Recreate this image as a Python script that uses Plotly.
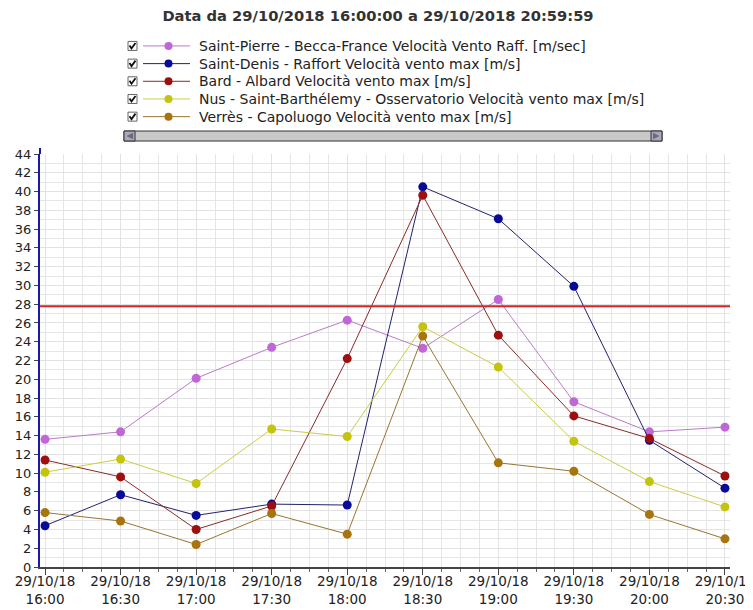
import plotly.graph_objects as go

times = ["2018-10-29 16:00", "2018-10-29 16:30", "2018-10-29 17:00", "2018-10-29 17:30",
         "2018-10-29 18:00", "2018-10-29 18:30", "2018-10-29 19:00", "2018-10-29 19:30",
         "2018-10-29 20:00", "2018-10-29 20:30"]
tick_labels = ["29/10/18<br>16:00", "29/10/18<br>16:30", "29/10/18<br>17:00", "29/10/18<br>17:30",
               "29/10/18<br>18:00", "29/10/18<br>18:30", "29/10/18<br>19:00", "29/10/18<br>19:30",
               "29/10/18<br>20:00", "29/10/18<br>20:30"]

saint_pierre = [13.6, 14.4, 20.1, 23.4, 26.3, 23.3, 28.5, 17.6, 14.4, 14.9]
saint_denis = [4.4, 7.7, 5.5, 6.7, 6.6, 40.5, 37.1, 29.9, 13.5, 8.4]
bard = [11.4, 9.6, 4.0, 6.5, 22.2, 39.6, 24.7, 16.1, 13.7, 9.7]
nus = [10.1, 11.5, 8.9, 14.7, 13.9, 25.6, 21.3, 13.4, 9.1, 6.4]
verres = [5.8, 4.9, 2.4, 5.7, 3.5, 24.6, 11.1, 10.2, 5.6, 3.0]

series_names = [
    "Saint-Pierre - Becca-France Velocità Vento Raff. [m/sec]",
    "Saint-Denis - Raffort Velocità vento max [m/s]",
    "Bard - Albard Velocità vento max [m/s]",
    "Nus - Saint-Barthélemy - Osservatorio Velocità vento max [m/s]",
    "Verrès - Capoluogo Velocità vento max [m/s]",
]
series_values = [saint_pierre, saint_denis, bard, nus, verres]
marker_colors = ["#c066d6", "#0a0a99", "#9e0f0f", "#c4c40e", "#a8740e"]
line_colors = ["#b87cc8", "#22226e", "#8a2a2a", "#cccc44", "#9a7430"]

threshold = 27.78
title_text = "Data da 29/10/2018 16:00:00 a 29/10/2018 20:59:59"

FONT = "DejaVu Sans"

fig = go.Figure()
for name, vals, mc, lc in zip(series_names, series_values, marker_colors, line_colors):
    fig.add_trace(go.Scatter(
        x=times, y=vals, name=name, mode="lines+markers",
        line=dict(color=lc, width=1),
        marker=dict(color=mc, size=9, line=dict(width=0)),
        showlegend=False,
    ))

# The page body has an 8px margin, so the figure is 8px smaller and all
# page coordinates below are expressed in window pixels.
OFF = 8
FIG_W, FIG_H = 753 - OFF, 610 - OFF

# plot-area geometry (window px) for decorations in paper coordinates
L, R, T, B = 40, 730, 154, 567.5
W, H = R - L, B - T


def px(x):
    return (x - L) / W


def py(y):
    return (B - y) / H


shapes = [
    dict(type="line", xref="paper", yref="y", x0=0, x1=1, y0=threshold, y1=threshold,
         line=dict(color="#d42424", width=2), layer="above"),
    # y axis line extends slightly above the top gridline
    dict(type="line", xref="paper", yref="paper", x0=0, x1=0, y0=1, y1=py(148),
         line=dict(color="#1a1aa8", width=2)),
]
annotations = []

# legend rows: checkbox, line sample with marker, label
rows = [45.8, 63.5, 81.2, 98.9, 116.6]
for r, name, mc, lc in zip(rows, series_names, marker_colors, line_colors):
    shapes.append(dict(type="rect", xref="paper", yref="paper",
                       x0=px(128), x1=px(137), y0=py(r + 4.5), y1=py(r - 4.5),
                       line=dict(color="#666666", width=1), fillcolor="white"))
    shapes.append(dict(type="path", xref="paper", yref="paper",
                       path=f"M {px(129.5)},{py(r - 0.5)} L {px(131.5)},{py(r + 2.5)} L {px(135.5)},{py(r - 3)}",
                       line=dict(color="#111111", width=1.8)))
    shapes.append(dict(type="line", xref="paper", yref="paper",
                       x0=px(143), x1=px(190), y0=py(r), y1=py(r),
                       line=dict(color=lc, width=1)))
    shapes.append(dict(type="circle", xref="paper", yref="paper",
                       x0=px(164.5), x1=px(172.5), y0=py(r + 4), y1=py(r - 4),
                       fillcolor=mc, line=dict(width=0)))
    annotations.append(dict(xref="paper", yref="paper", x=px(197), y=py(r),
                            xanchor="left", yanchor="middle", showarrow=False,
                            text=name, font=dict(family=FONT, size=14, color="#222222")))

# scrollbar
shapes.append(dict(type="rect", xref="paper", yref="paper",
                   x0=px(124), x1=px(662), y0=py(141), y1=py(131),
                   line=dict(color="#333333", width=1), fillcolor="#c9c9c9"))
shapes.append(dict(type="rect", xref="paper", yref="paper",
                   x0=px(124), x1=px(135), y0=py(141), y1=py(131),
                   line=dict(color="#333333", width=1), fillcolor="#a9a9b9"))
shapes.append(dict(type="rect", xref="paper", yref="paper",
                   x0=px(651), x1=px(662), y0=py(141), y1=py(131),
                   line=dict(color="#333333", width=1), fillcolor="#a9a9b9"))
shapes.append(dict(type="path", xref="paper", yref="paper",
                   path=f"M {px(126.5)},{py(136)} L {px(133)},{py(132.8)} L {px(133)},{py(139.2)} Z",
                   fillcolor="#6a6a80", line=dict(width=0)))
shapes.append(dict(type="path", xref="paper", yref="paper",
                   path=f"M {px(659.5)},{py(136)} L {px(653)},{py(132.8)} L {px(653)},{py(139.2)} Z",
                   fillcolor="#6a6a80", line=dict(width=0)))

fig.update_layout(
    width=FIG_W, height=FIG_H,
    margin=dict(l=L - OFF, r=753 - R, t=T - OFF, b=610 - B, autoexpand=False),
    paper_bgcolor="white", plot_bgcolor="white",
    font=dict(family=FONT, size=12, color="#222222"),
    title=dict(text=title_text, x=(378 - OFF) / FIG_W, xanchor="center",
               y=1 - (16 - OFF) / FIG_H, yanchor="middle",
               xref="container", yref="container",
               font=dict(family=FONT, size=14.7, color="#333333", weight="bold")),
    showlegend=False,
    shapes=shapes,
    annotations=annotations,
)

fig.update_xaxes(
    type="date",
    range=["2018-10-29 15:58", "2018-10-29 20:32"],
    tickvals=times, ticktext=tick_labels, tickangle=0,
    ticklabeloverflow="allow", ticklabelstandoff=-5,
    showgrid=True, gridcolor="#e2e2e2", gridwidth=1,
    ticks="outside", ticklen=6, tickcolor="#444444",
    showline=True, linecolor="#444444", linewidth=2,
    minor=dict(dtick=450000, tick0="2018-10-29 16:00", showgrid=True, gridcolor="#e6e6e6",
               ticks="outside", ticklen=3, tickcolor="#666666"),
    tickfont=dict(family=FONT, size=13.5, color="#222222"),
    zeroline=False,
)
fig.update_yaxes(
    range=[0, 44], dtick=2, tick0=0,
    showgrid=True, gridcolor="#e2e2e2", gridwidth=1,
    ticks="outside", ticklen=4, tickcolor="#444444",
    showline=True, linecolor="#1a1aa8", linewidth=2,
    minor=dict(dtick=1, showgrid=True, gridcolor="#e6e6e6"),
    tickfont=dict(family=FONT, size=13, color="#222222"),
    zeroline=False,
)

fig.write_html("out.html")
